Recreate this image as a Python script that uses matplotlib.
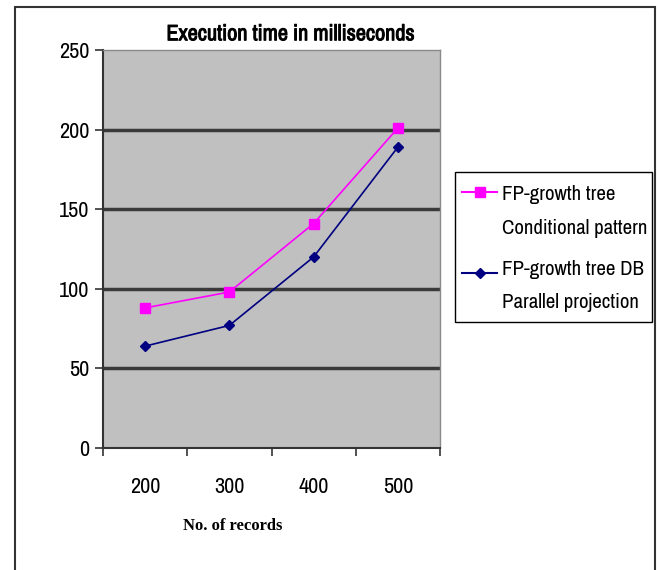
import matplotlib
matplotlib.use("Agg")
import matplotlib.pyplot as plt
import matplotlib.patheffects as pe
from matplotlib.patches import Rectangle
from matplotlib.lines import Line2D

# data
records = ["200", "300", "400", "500"]
conditional = [88, 98, 141, 201]
parallel = [64, 77, 120, 189]
y_ticks = [0, 50, 100, 150, 200, 250]

series = [
    (["FP-growth tree", "Conditional pattern"], conditional, "#FF00FF", "s", 7),
    (["FP-growth tree DB", "Parallel projection"], parallel, "#000080", "D", 5.5),
]

narrow = {"family": ["Archivo Narrow", "DejaVu Sans"], "stretch": "condensed"}

fig = plt.figure(figsize=(6.58, 5.70), dpi=100)
fig.patch.set_facecolor("white")

# outer frame around the whole chart
fig.patches.append(Rectangle((15 / 658, -0.01), 640 / 658, 1 - 7 / 570 + 0.01,
                             transform=fig.transFigure, fill=False,
                             edgecolor="#333333", linewidth=1.5))

ax = fig.add_axes([103 / 658, 1 - 448 / 570, 337 / 658, 398 / 570])
ax.set_facecolor("#C0C0C0")

x = range(len(records))
for label, vals, color, marker, ms in series:
    ax.plot(x, vals, color=color, marker=marker, markersize=ms,
            linewidth=1.2, zorder=3)

ax.set_xlim(-0.5, len(records) - 0.5)
ax.set_ylim(0, 250)
ax.set_yticks(y_ticks)
ax.set_yticklabels([str(v) for v in y_ticks], fontsize=16, **narrow)
for v in y_ticks[1:-1]:
    ax.axhline(v, color="#3a3a3a", linewidth=2.5, zorder=1)

# category labels sit between the boundary ticks
ax.set_xticks([i - 0.5 for i in range(len(records) + 1)])
ax.set_xticklabels([])
ax.set_xticks(list(x), minor=True)
ax.set_xticklabels(records, minor=True, fontsize=16, **narrow)
ax.tick_params(axis="x", which="minor", length=0, pad=21)
ax.tick_params(axis="x", which="major", length=6, width=1.2, color="#333333")
ax.tick_params(axis="y", length=6, width=1.2, color="#333333", pad=4)

for side in ["top", "right"]:
    ax.spines[side].set_color("#8a8a8a")
    ax.spines[side].set_linewidth(1)
for side in ["left", "bottom"]:
    ax.spines[side].set_color("#333333")
    ax.spines[side].set_linewidth(1.5)

title = ax.set_title("Execution time in milliseconds", fontsize=16,
                     x=0.558, pad=7, **narrow)
title.set_path_effects([pe.withStroke(linewidth=0.7, foreground="black")])
ax.set_xlabel("No. of records", family=["Liberation Serif", "DejaVu Serif"],
              fontsize=12, fontweight="bold")
ax.xaxis.set_label_coords(0.386, -0.175)

# legend box, handle drawn beside the first line of each label
lx0, ly0, lx1, ly1 = 455 / 658, 1 - 322 / 570, 652 / 658, 1 - 172 / 570
fig.patches.append(Rectangle((lx0, ly0), lx1 - lx0, ly1 - ly0, transform=fig.transFigure,
                             facecolor="white", edgecolor="black", linewidth=1))
for (lines, vals, color, marker, ms), hy, rows in zip(series, [192, 273], [(195, 228), (270, 302)]):
    yy = 1 - hy / 570
    fig.add_artist(Line2D([462 / 658, 497 / 658], [yy, yy], transform=fig.transFigure,
                          color=color, linewidth=1.5))
    fig.add_artist(Line2D([479.5 / 658], [yy], transform=fig.transFigure, color=color,
                          marker=marker, markersize=ms, linestyle="none"))
    for line, ry in zip(lines, rows):
        fig.text(502 / 658, 1 - ry / 570, line, va="center", fontsize=15, **narrow)

fig.savefig("out.png", dpi=100)
